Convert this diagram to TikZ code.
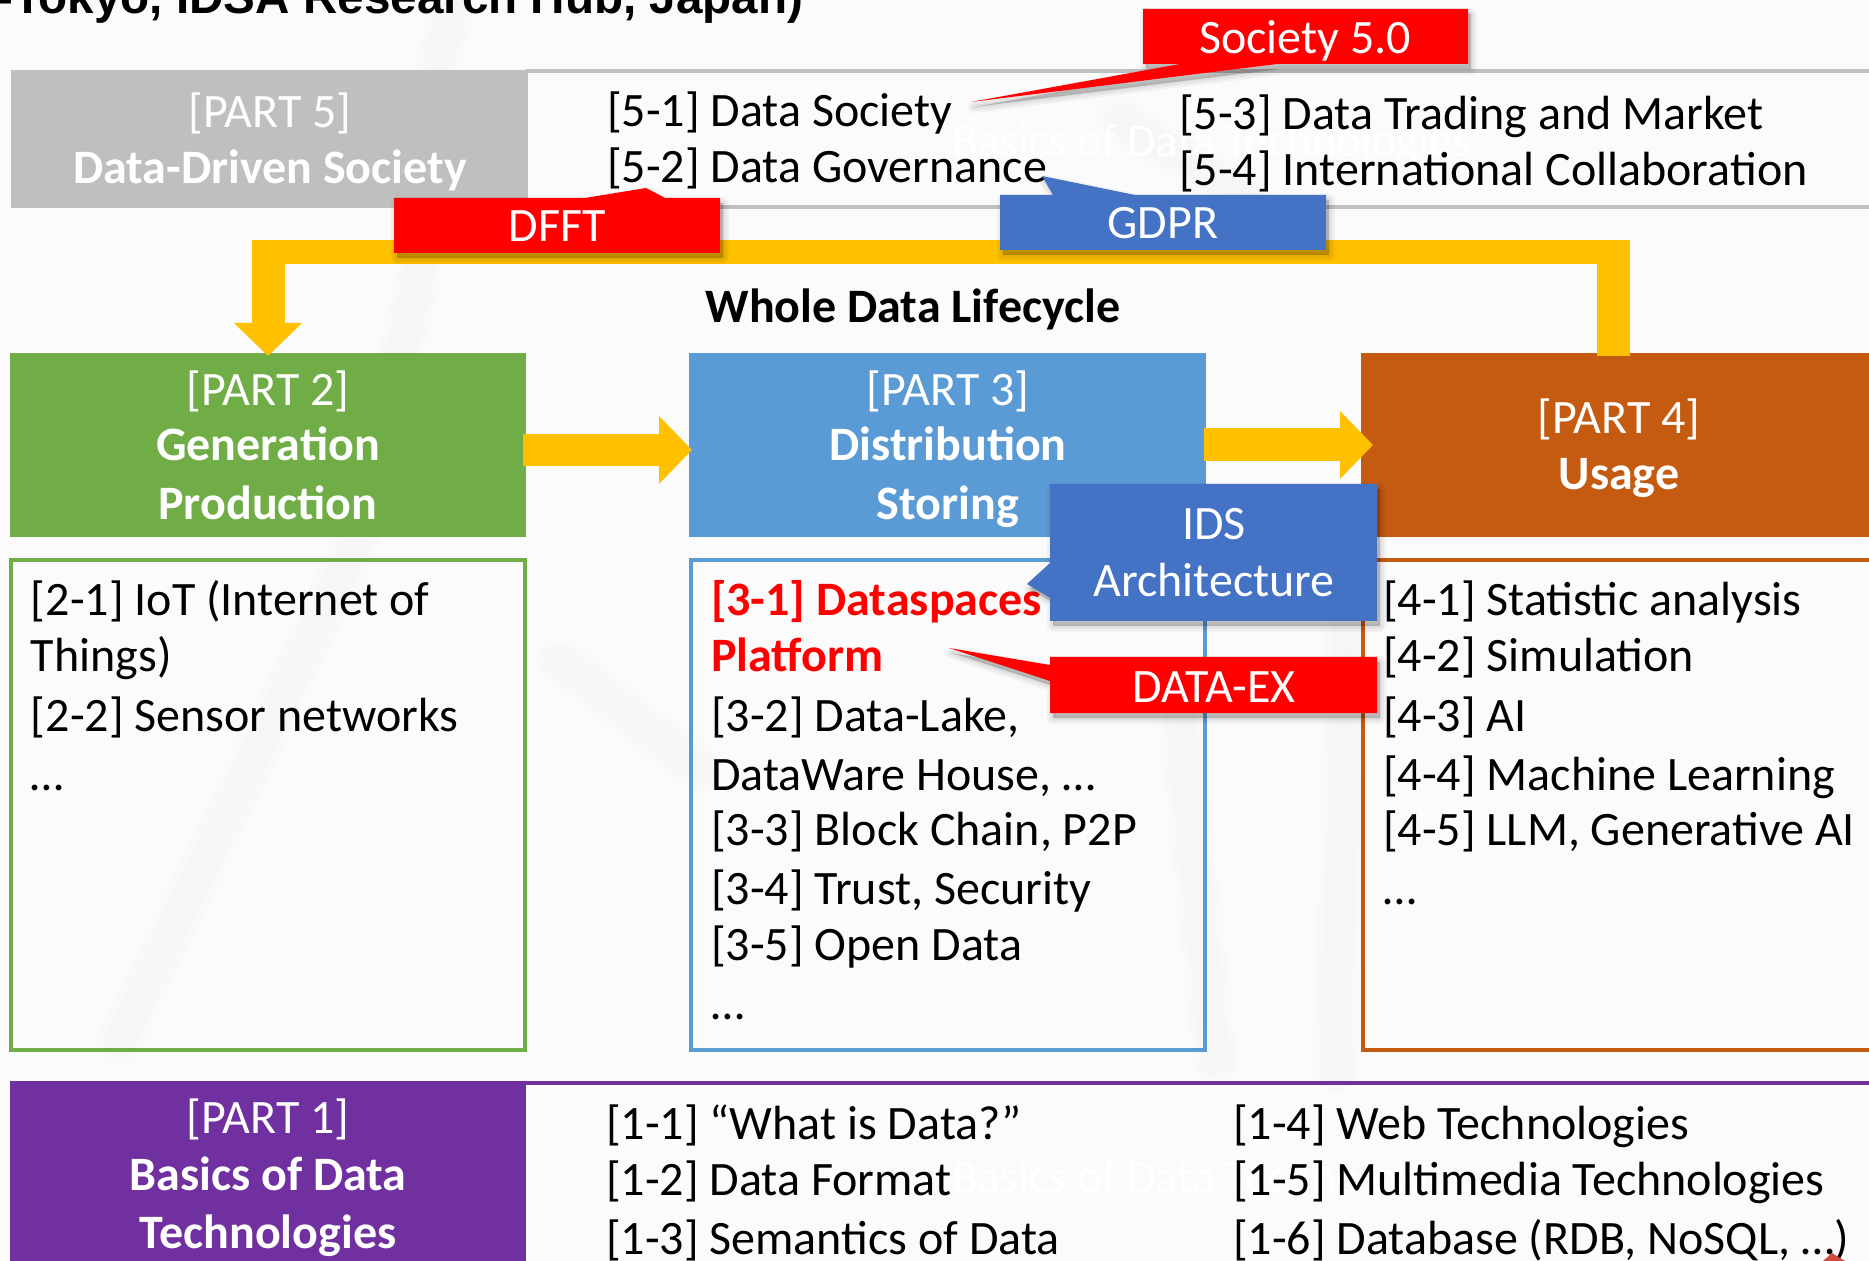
\documentclass[tikz,border=0pt]{standalone}
\usepackage{fontspec}
\setmainfont{Carlito}
\newfontfamily\headfont{Liberation Sans}
\usetikzlibrary{arrows.meta,calc}
\definecolor{bgc}{HTML}{FBFBFB}
\definecolor{streakc}{HTML}{F5F5F5}
\definecolor{grayb}{HTML}{BFBFBF}
\definecolor{greenb}{HTML}{70AD47}
\definecolor{blueb}{HTML}{5B9BD5}
\definecolor{orangeb}{HTML}{C55A11}
\definecolor{purpleb}{HTML}{7030A0}
\definecolor{yellowb}{HTML}{FFC000}
\definecolor{callblue}{HTML}{4472C4}
\definecolor{callred}{HTML}{FF0000}
\definecolor{cornerred}{HTML}{CF4B40}
\newcommand{\fs}{\fontsize{24}{28}\selectfont}
\tikzset{
  x=0.5pt,y=-0.5pt,
  headbox/.style={inner sep=0pt,outer sep=0pt,draw=none,text=white,anchor=north west},
  listbox/.style={line width=2pt,inner sep=0pt,outer sep=0pt,anchor=north west},
  lab/.style={inner sep=0pt,outer sep=0pt,anchor=base west,font=\fs,text=black},
  hlab/.style={inner sep=0pt,outer sep=0pt,anchor=base,font=\fs,text=white},
  hbold/.style={hlab,font=\fs\bfseries},
  yline/.style={draw=yellowb,line join=miter},
  yhead/.style={-{Triangle[length=16.5pt,width=33pt,fill=yellowb]}},
  shad/.style={fill=black,fill opacity=.07,draw=black,draw opacity=.035,line width=#1,line join=round},
  wm/.style={inner sep=0pt,outer sep=0pt,anchor=base west,font=\fontsize{23.4}{28}\selectfont,text=white},
  streak/.style={draw=streakc,line width=#1,line cap=round,draw opacity=.25},
}
% polygon with a soft drop shadow
\newcommand{\softpoly}[2]{%
  \begin{scope}[shift={(3,5)}]
    \path[shad=6pt] #2;
    \path[shad=4pt] #2;
    \path[shad=2pt] #2;
  \end{scope}
  \fill[#1] #2;
}
\begin{document}
\begin{tikzpicture}
\useasboundingbox (0,0) rectangle (1869,1261);
\clip (0,0) rectangle (1869,1261);
\fill[bgc] (0,0) rectangle (1869,1261);
% faint background streaks
\foreach \w in {10pt,16pt,22pt}{
  \draw[streak=\w] (455,0) -- (425,110);
  \draw[streak=\w] (420,270) -- (357,540) -- (120,1040);
  \draw[streak=\w] (560,660) -- (700,770);
  \draw[streak=\w] (1350,560) -- (1335,1070);
  \draw[streak=\w] (1180,720) -- (1215,1060);
  \draw[streak=\w] (1120,120) -- (1250,200);
}

% title fragment
\node[inner sep=0pt,anchor=base west,font=\headfont\bfseries\fontsize{23.8}{28}\selectfont] (title) at (-3,14) {-Tokyo, IDSA Research Hub, Japan)};

% PART 5 band
\draw[grayb,line width=2pt] (526,71) -- (1869,71);
\draw[grayb,line width=2pt] (526,207) -- (1869,207);
\node[headbox,fill=grayb,minimum width=258.5pt,minimum height=69pt] (part5) at (11,70) {};
\node[hlab] (p5a) at (270,128) {[PART 5]};
\node[hbold] (p5b) at (270,184) {Data-Driven Society};
\node[wm] (wm5) at (952,157) {Basics of Data Technologies};
\node[lab] (l51) at (607,127) {[5-1] Data Society};
\node[lab] (l52) at (607,183) {[5-2] Data Governance};
\node[lab] (l53) at (1179,130) {[5-3] Data Trading and Market};
\node[lab] (l54) at (1179,186) {[5-4] International Collaboration};

% header boxes
\node[headbox,fill=greenb,minimum width=258pt,minimum height=92pt] (part2) at (10,353) {};
\node[headbox,fill=blueb,minimum width=258.5pt,minimum height=92pt] (part3) at (689,353) {};
\node[headbox,fill=orangeb,minimum width=260pt,minimum height=92pt] (part4) at (1361,353) {};
\node[hlab] (p2a) at (268,406) {[PART 2]};
\node[hbold] (p2b) at (268,461) {Generation};
\node[hbold] (p2c) at (268,520) {Production};
\node[hlab] (p3a) at (948,406) {[PART 3]};
\node[hbold] (p3b) at (948,461) {Distribution};
\node[hbold] (p3c) at (948,520) {Storing};
\node[hlab] (p4a) at (1619,434) {[PART 4]};
\node[hbold] (p4b) at (1619,490) {Usage};

% list boxes
\node[listbox,draw=greenb,minimum width=257pt,minimum height=245pt] (box2) at (11,560) {};
\node[listbox,draw=blueb,minimum width=257pt,minimum height=245pt] (box3) at (691,560) {};
\node[listbox,draw=orangeb,minimum width=260pt,minimum height=245pt] (box4) at (1363,560) {};

\node[lab] (t21) at (31,616) {[2-1] IoT (Internet of};
\node[lab] (t21b) at (31,672) {Things)};
\node[lab] (t22) at (31,731) {[2-2] Sensor networks};
\node[lab] (t2d) at (31,790) {…};

\node[lab,text=callred,font=\fs\bfseries] (t31) at (711,616) {[3-1] Dataspaces};
\node[lab,text=callred,font=\fs\bfseries] (t31b) at (711,672) {Platform};
\node[lab] (t32) at (711,731) {[3-2] Data-Lake,};
\node[lab] (t32b) at (711,790) {DataWare House, …};
\node[lab] (t33) at (711,845) {[3-3] Block Chain, P2P};
\node[lab] (t34) at (711,904) {[3-4] Trust, Security};
\node[lab] (t35) at (711,960) {[3-5] Open Data};
\node[lab] (t3d) at (711,1019) {…};

\node[lab] (t41) at (1383,616) {[4-1] Statistic analysis};
\node[lab] (t42) at (1383,672) {[4-2] Simulation};
\node[lab] (t43) at (1383,731) {[4-3] AI};
\node[lab] (t44) at (1383,790) {[4-4] Machine Learning};
\node[lab] (t45) at (1383,845) {[4-5] LLM, Generative AI};
\node[lab] (t4d) at (1383,904) {…};

% PART 1 band
\draw[purpleb,line width=2pt] (526,1083) -- (1869,1083);
\node[headbox,fill=purpleb,minimum width=258pt,minimum height=95pt] (part1) at (10,1081) {};
\node[hlab] (p1a) at (268,1133) {[PART 1]};
\node[hbold] (p1b) at (268,1190) {Basics of Data};
\node[hbold] (p1c) at (268,1248) {Technologies};
\node[wm] (wm1) at (952,1192) {Basics of Data Technologies};
\node[lab] (t11) at (606,1139) {[1-1] “What is Data?”};
\node[lab] (t12) at (606,1195) {[1-2] Data Format};
\node[lab] (t13) at (606,1254) {[1-3] Semantics of Data};
\node[lab] (t14) at (1233,1139) {[1-4] Web Technologies};
\node[lab] (t15) at (1233,1195) {[1-5] Multimedia Technologies};
\node[lab] (t16) at (1233,1254) {[1-6] Database (RDB, NoSQL, …)};
\fill[cornerred] (1832,1253) -- (1845,1261) -- (1823,1261) -- cycle;

% lifecycle label
\node[inner sep=0pt,anchor=base,font=\fs\bfseries] (life) at (913,323) {Whole Data Lifecycle};

% yellow connectors
\draw[yline,line width=16pt,yhead] ([xshift=-1.5pt,yshift=-2.5pt]part2.east) -- ([xshift=1.5pt,yshift=-2.5pt]part3.west);
\draw[yline,line width=16.5pt,yhead] ([xshift=-1pt]part3.east) -- ([xshift=6pt]part4.west);
\coordinate (loopR) at (1613.5,252);
\coordinate (loopL) at (268,252);
\draw[yline,line width=12pt,yhead] (loopR) -- (loopL) -- ([yshift=-1.5pt]part2.north);
\draw[yline,line width=16.5pt] (1613.5,356) -- (1613.5,240);
\draw[yline,line width=16.5pt] (268,240) -- (268,323);

% callouts
\softpoly{callred}{(1143,9) -- (1468,9) -- (1468,64) -- (1277,64) -- (971,102) -- (1180,64) -- (1143,64) -- cycle}
\node[hlab] (soc) at (1305,54) {Society 5.0};
\softpoly{callred}{(394,198) -- (585,198) -- (646,188) -- (665,198) -- (720,198) -- (720,253) -- (394,253) -- cycle}
\node[hlab] (dfft) at (557,242) {DFFT};
\softpoly{callblue}{(1000,195) -- (1053,195) -- (1042,176) -- (1135,195) -- (1326,195) -- (1326,250) -- (1000,250) -- cycle}
\node[hlab] (gdpr) at (1163,239) {GDPR};
\softpoly{callblue}{(1050,484) -- (1377,484) -- (1377,621) -- (1050,621) -- (1050,598) -- (1027,584) -- (1050,563) -- cycle}
\node[hlab] (ids1) at (1214,540) {IDS};
\node[hlab] (ids2) at (1214,597) {Architecture};
\softpoly{callred}{(1050,657) -- (1377,657) -- (1377,713) -- (1050,713) -- (1050,681) -- (949,648) -- (1050,665) -- cycle}
\node[hlab] (dex) at (1214,703) {DATA-EX};
\end{tikzpicture}
\end{document}
